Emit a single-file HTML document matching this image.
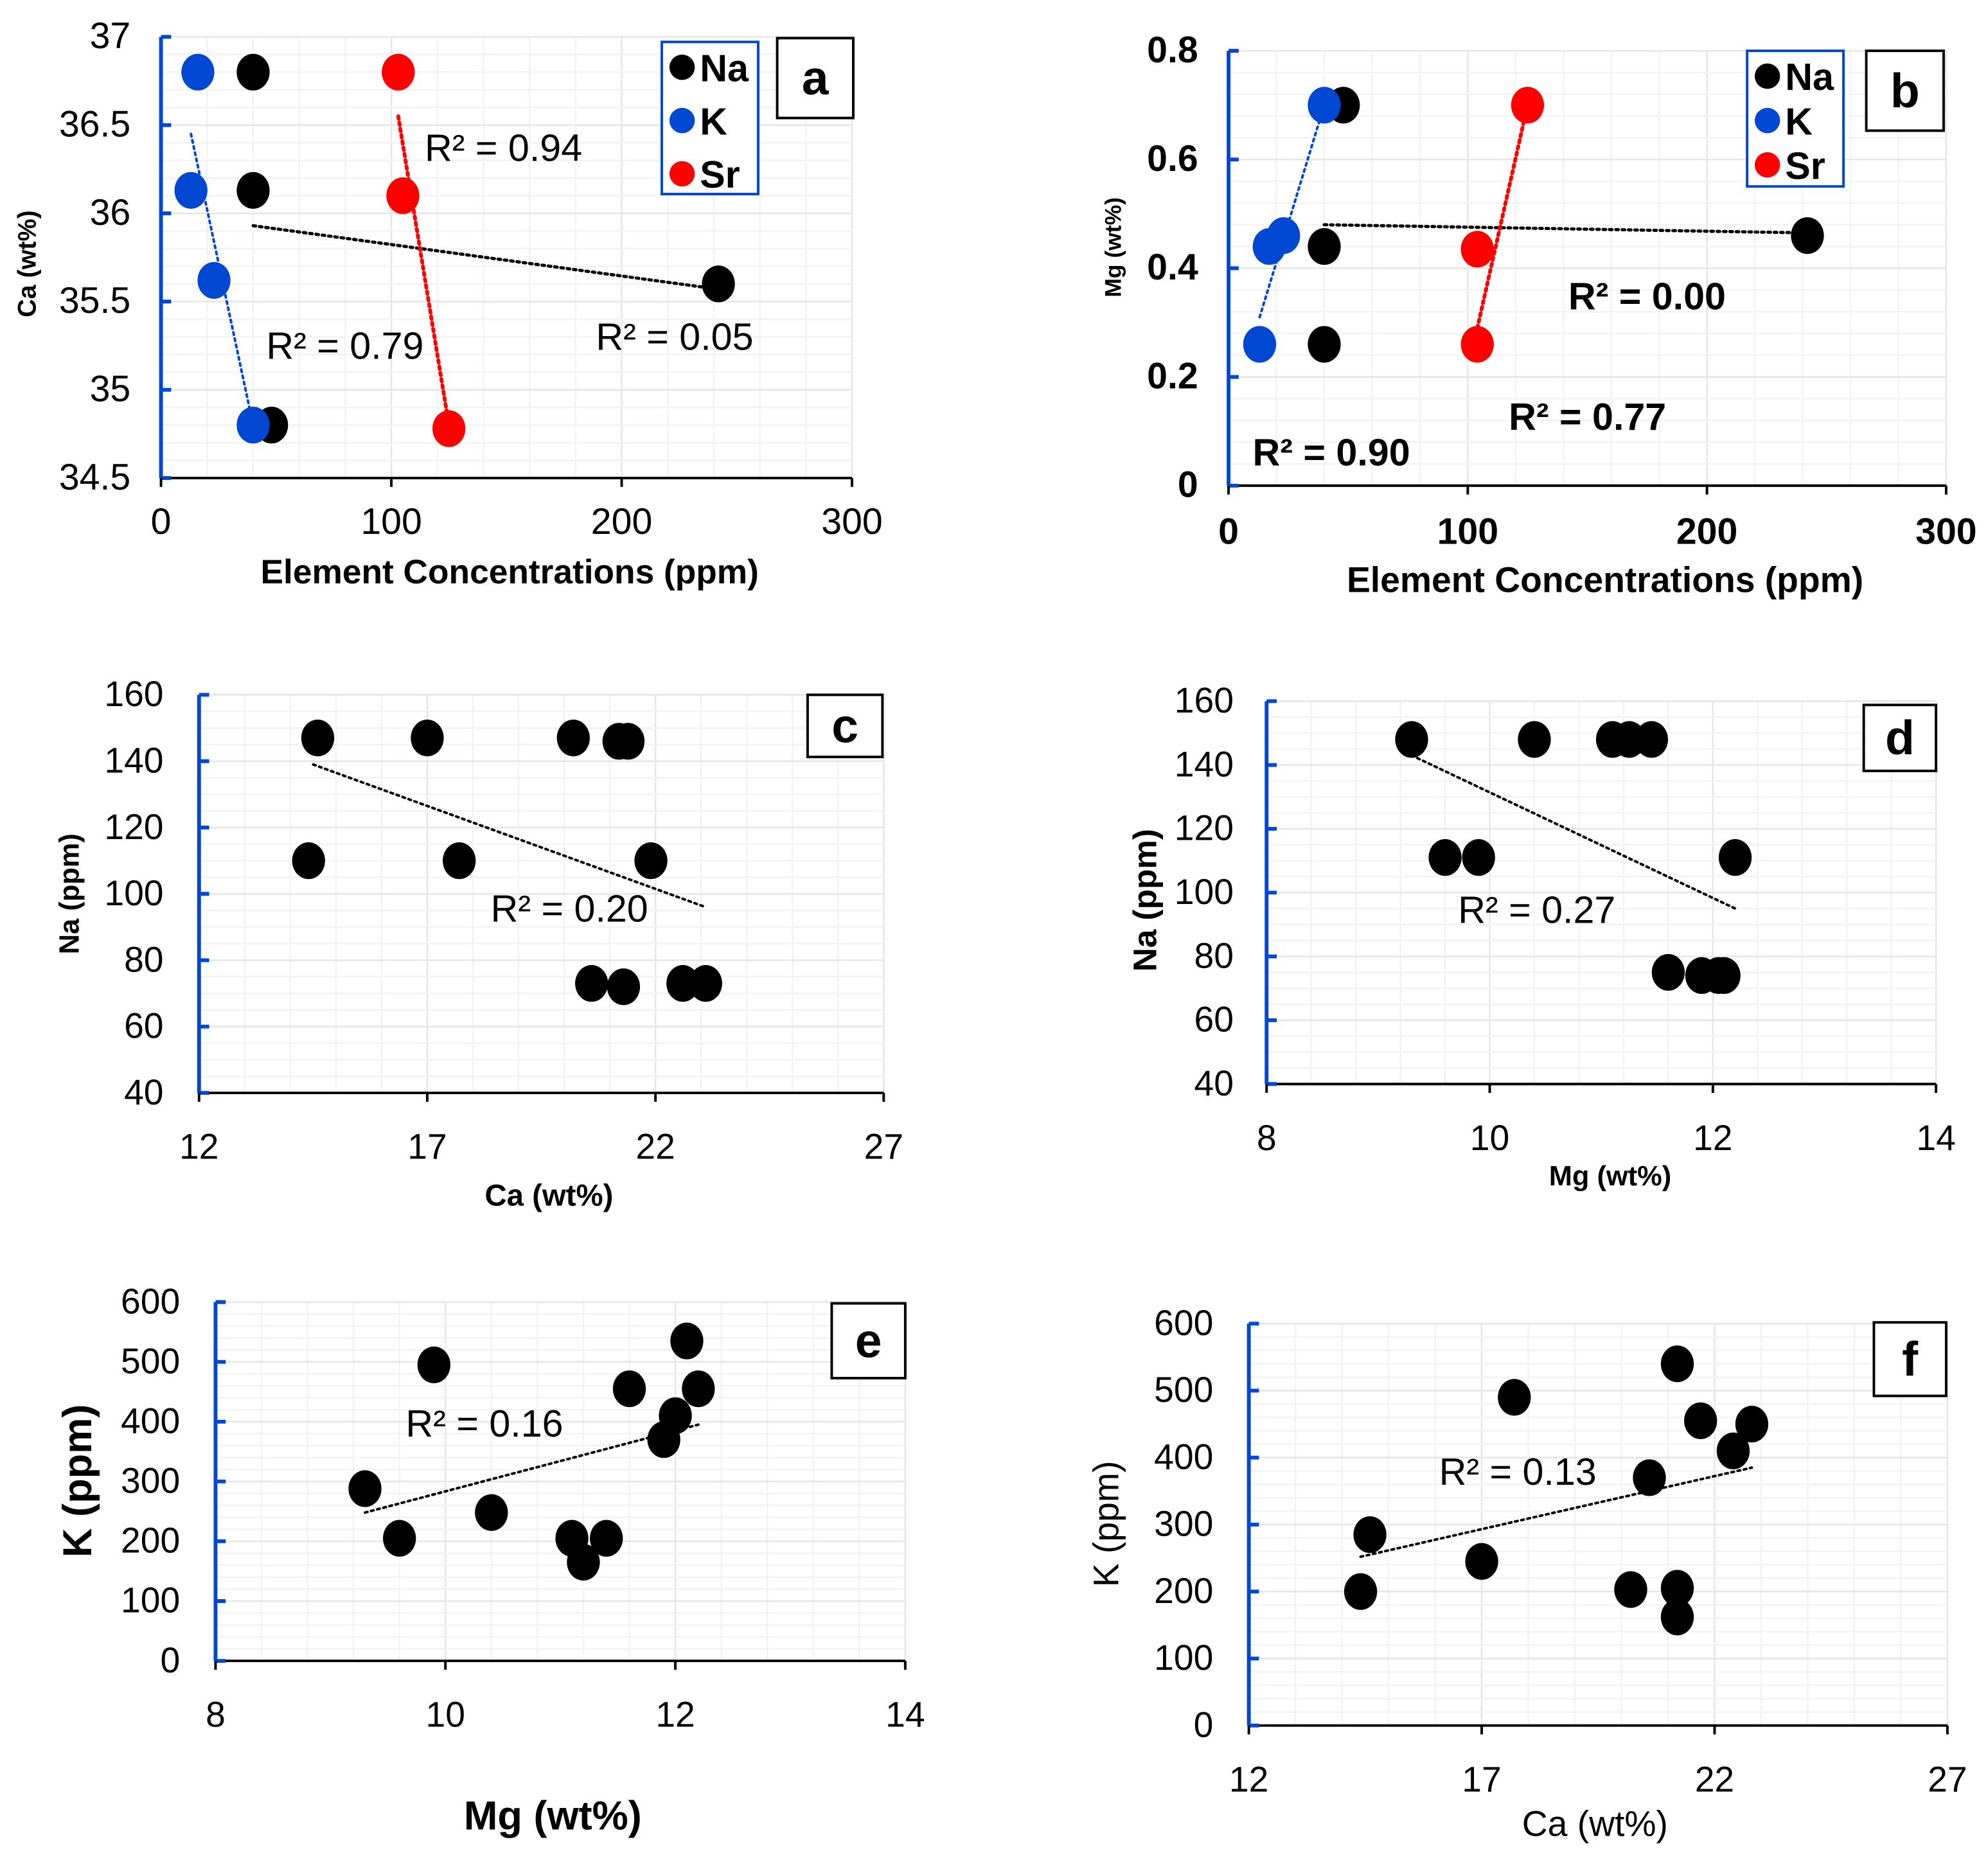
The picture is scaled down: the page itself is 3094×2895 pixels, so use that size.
<!DOCTYPE html>
<html><head><meta charset="utf-8"><style>
html,body{margin:0;padding:0;background:#fff;}
svg{display:block;font-family:"Liberation Sans",Arial,sans-serif;}
</style></head><body>
<svg id="chart" width="3094" height="2895" viewBox="0 0 1568 1467" xmlns="http://www.w3.org/2000/svg"></svg>
<script>
// Panel a
const aNaX=[40,40,242,48], aNaY=[36.8,36.13,35.6,34.8];
const aKX=[16,13,23,40], aKY=[36.8,36.13,35.62,34.8];
const aSrX=[103,105,125], aSrY=[36.8,36.1,34.78];
const aNaTrend=[[40,35.93],[242,35.57]], aKTrend=[[13,36.45],[40,34.8]], aSrTrend=[[103,36.55],[125,34.8]];
const aXTicks=[0,100,200,300], aYTicks=[34.5,35,35.5,36,36.5,37];
// Panel b
const bNaX=[40,40,48,242], bNaY=[0.44,0.26,0.7,0.46];
const bKX=[13,17,23,40], bKY=[0.26,0.44,0.46,0.7];
const bSrX=[104,104,125], bSrY=[0.26,0.435,0.7];
const bNaTrend=[[40,0.48],[242,0.465]], bKTrend=[[13,0.31],[40,0.7]], bSrTrend=[[104,0.29],[125,0.7]];
const bXTicks=[0,100,200,300], bYTicks=[0,0.2,0.4,0.6,0.8];
// Panel c
const cX=[14.6,17,20.2,21.2,21.4,14.4,17.7,21.9,20.6,21.3,22.6,23.1];
const cY=[147,147,147,146,146,110,110,110,73,72,73,73];
const cTrend=[[14.5,139],[23.1,96]], cXTicks=[12,17,22,27], cYTicks=[40,60,80,100,120,140,160];
// Panel d
const dX=[9.3,10.4,11.1,11.25,11.45,9.6,9.9,12.2,11.6,11.9,12.05,12.1];
const dY=[148,148,148,148,148,111,111,111,75,74,74,74];
const dTrend=[[9.3,143],[12.2,95]], dXTicks=[8,10,12,14], dYTicks=[40,60,80,100,120,140,160];
// Panel e
const eX=[9.3,9.6,9.9,10.4,11.1,11.2,11.4,11.6,11.9,12.0,12.1,12.2];
const eY=[288,205,495,248,205,165,205,455,370,410,535,455];
const eTrend=[[9.3,248],[12.2,395]], eXTicks=[8,10,12,14], eYTicks=[0,100,200,300,400,500,600];
// Panel f
const fX=[14.4,14.6,17,17.7,20.2,20.6,21.2,21.2,21.2,21.7,22.4,22.8];
const fY=[200,285,245,490,203,370,540,205,162,455,410,450];
const fTrend=[[14.4,252],[22.8,385]], fXTicks=[12,17,22,27], fYTicks=[0,100,200,300,400,500,600];

const NS="http://www.w3.org/2000/svg";
const svg=document.getElementById('chart');
function mk(tag,attrs,parent,text){const e=document.createElementNS(NS,tag);for(const k in attrs)e.setAttribute(k,attrs[k]);if(text!==undefined)e.textContent=text;(parent||svg).appendChild(e);return e;}

function panel(cfg){
  const g=mk('g',{});
  
  
  const xmin=cfg.xt[0],xmax=cfg.xt[cfg.xt.length-1],ymin=cfg.yt[0],ymax=cfg.yt[cfg.yt.length-1];
  const sx=v=>cfg.x0+(v-xmin)/(xmax-xmin)*(cfg.x1-cfg.x0);
  const sy=v=>cfg.y0+(v-ymin)/(ymax-ymin)*(cfg.y1-cfg.y0);
  const xs=(xmax-xmin)/((cfg.xt.length-1)*cfg.xm), ys=(ymax-ymin)/((cfg.yt.length-1)*cfg.ym);
  for(let i=0;i<=(cfg.xt.length-1)*cfg.xm;i++){const x=sx(xmin+i*xs);const l=mk('line',{x1:x,x2:x,y1:cfg.y1,y2:cfg.y0,stroke:i%cfg.xm?'#f3f3f3':'#e6e6e6','stroke-width':1.3},g);}
  for(let i=0;i<=(cfg.yt.length-1)*cfg.ym;i++){const y=sy(ymin+i*ys);const l=mk('line',{x1:cfg.x0,x2:cfg.x1,y1:y,y2:y,stroke:i%cfg.ym?'#f3f3f3':'#e6e6e6','stroke-width':1.3},g);}
  const ya=mk('line',{x1:cfg.x0,x2:cfg.x0,y1:cfg.y0,y2:cfg.y1,stroke:'#0047d1','stroke-width':3},g);
  
  const xa=mk('line',{x1:cfg.x0,x2:cfg.x1,y1:cfg.y0,y2:cfg.y0,stroke:'#000','stroke-width':2},g);
  
  const fw=cfg.bold?'bold':'normal';
  cfg.yt.forEach(v=>{const y=sy(v);mk('line',{x1:cfg.x0,x2:cfg.x0+8,y1:y,y2:y,stroke:'#0047d1','stroke-width':3},g);
    const t=mk('text',{x:cfg.x0-cfg.ylOff,y:y+9,'text-anchor':'end','font-size':cfg.fs,'font-weight':fw},g,String(v));
    });
  cfg.xt.forEach(v=>{const x=sx(v);mk('line',{x1:x,x2:x,y1:cfg.y0,y2:cfg.y0+7,stroke:'#000','stroke-width':2},g);
    const t=mk('text',{x:x,y:cfg.y0+cfg.xlOff,'text-anchor':'middle','font-size':cfg.fs,'font-weight':fw},g,String(v));
    });
  const xt=mk('text',{x:cfg.xTitle[0],y:cfg.xTitle[1],'text-anchor':'middle','font-size':cfg.xTitle[3],'font-weight':cfg.xTitle[4]},g,cfg.xTitle[2]);
  
  const yt=mk('text',{x:0,y:0,'text-anchor':'middle','font-size':cfg.yTitle[3],'font-weight':cfg.yTitle[4],transform:`translate(${cfg.yTitle[0]},${cfg.yTitle[1]}) rotate(-90)`},g,cfg.yTitle[2]);
  
  cfg.trends.forEach(tr=>{const l=mk('line',{x1:sx(tr.p[0][0]),y1:sy(tr.p[0][1]),x2:sx(tr.p[1][0]),y2:sy(tr.p[1][1]),stroke:tr.c,'stroke-width':tr.w||2.5,'stroke-dasharray':'2 3','stroke-linecap':'round'},g);
    });
  cfg.series.forEach(s=>{s.x.forEach((xv,i)=>{const e=mk('ellipse',{cx:sx(xv),cy:sy(s.y[i]),rx:13,ry:14.5,fill:s.c},g);
    });});
  cfg.r2.forEach(r=>{const t=mk('text',{x:r[0],y:r[1],'font-size':r[3]||30,'font-weight':r[4]||'normal'},g,r[2]);
    });
  const b=cfg.box;const br=mk('rect',{x:b[0],y:b[1],width:b[2],height:b[3],fill:'#fff',stroke:'#000','stroke-width':2},g);
  
  const bt=mk('text',{x:b[0]+b[2]/2,y:b[1]+b[3]/2+13,'text-anchor':'middle','font-size':38,'font-weight':'bold'},g,cfg.id);
  
  if(cfg.legend){const L=cfg.legend;const lr=mk('rect',{x:L[0],y:L[1],width:L[2],height:L[3],fill:'#fff',stroke:'#0047d1','stroke-width':2},g);
    
    [['Na','#000'],['K','#0047d1'],['Sr','#f00']].forEach((e,i)=>{const y=L[1]+20+i*L[4];
      const c=mk('circle',{cx:L[0]+16,cy:y,r:10,fill:e[1]},g);
      const t=mk('text',{x:L[0]+30,y:y+11,'font-size':30,'font-weight':'bold'},g,e[0]);});}
}

panel({id:'a',x0:127,x1:672,y0:377,y1:29,xt:aXTicks,yt:aYTicks,xm:5,ym:5,fs:29,ylOff:24,xlOff:44,bold:false,
  xTitle:[402,460,'Element Concentrations (ppm)',27,'bold'],yTitle:[28,208,'Ca (wt%)',20,'bold'],
  trends:[{p:aNaTrend,c:'#000'},{p:aKTrend,c:'#0047d1',w:2},{p:aSrTrend,c:'#f00',w:3}],
  series:[{n:'na',x:aNaX,y:aNaY,c:'#000'},{n:'k',x:aKX,y:aKY,c:'#0047d1'},{n:'sr',x:aSrX,y:aSrY,c:'#f00'}],
  r2:[[335,127,'R² = 0.94'],[210,283,'R² = 0.79'],[470,276,'R² = 0.05']],
  box:[613,30,60,63],legend:[522,33,76,120,42]});
panel({id:'b',x0:969,x1:1535,y0:383,y1:40,xt:bXTicks,yt:bYTicks,xm:5,ym:5,fs:29,ylOff:24,xlOff:46,bold:true,
  xTitle:[1266,467,'Element Concentrations (ppm)',28,'bold'],yTitle:[884,195,'Mg (wt%)',18,'bold'],
  trends:[{p:bNaTrend,c:'#000'},{p:bKTrend,c:'#0047d1',w:2},{p:bSrTrend,c:'#f00',w:3}],
  series:[{n:'na',x:bNaX,y:bNaY,c:'#000'},{n:'k',x:bKX,y:bKY,c:'#0047d1'},{n:'sr',x:bSrX,y:bSrY,c:'#f00'}],
  r2:[[1237,244,'R² = 0.00',30,'bold'],[1190,339,'R² = 0.77',30,'bold'],[988,367,'R² = 0.90',30,'bold']],
  box:[1472,40,61,63],legend:[1378,40,76,107,35]});
panel({id:'c',x0:157,x1:697,y0:862,y1:548,xt:cXTicks,yt:cYTicks,xm:5,ym:4,fs:28,ylOff:28,xlOff:52,bold:false,
  xTitle:[433,951,'Ca (wt%)',24,'bold'],yTitle:[62,705,'Na (ppm)',22,'bold'],
  trends:[{p:cTrend,c:'#000',w:2}],series:[{n:'na',x:cX,y:cY,c:'#000'}],
  r2:[[387,727,'R² = 0.20']],box:[637,548,59,49]});
panel({id:'d',x0:999,x1:1527,y0:855,y1:553,xt:dXTicks,yt:dYTicks,xm:5,ym:4,fs:28,ylOff:26,xlOff:52,bold:false,
  xTitle:[1270,935,'Mg (wt%)',22,'bold'],yTitle:[912,710,'Na (ppm)',26,'bold'],
  trends:[{p:dTrend,c:'#000',w:2}],series:[{n:'na',x:dX,y:dY,c:'#000'}],
  r2:[[1150,728,'R² = 0.27']],box:[1470,556,57,52]});
panel({id:'e',x0:170,x1:714,y0:1310,y1:1027,xt:eXTicks,yt:eYTicks,xm:5,ym:5,fs:28,ylOff:28,xlOff:52,bold:false,
  xTitle:[436,1443,'Mg (wt%)',32,'bold'],yTitle:[72,1168,'K (ppm)',32,'bold'],
  trends:[{p:eTrend,c:'#000',w:2}],series:[{n:'k',x:eX,y:eY,c:'#000'}],
  r2:[[320,1133,'R² = 0.16']],box:[656,1028,58,59]});
panel({id:'f',x0:985,x1:1536,y0:1361,y1:1044,xt:fXTicks,yt:fYTicks,xm:5,ym:5,fs:28,ylOff:28,xlOff:52,bold:false,
  xTitle:[1258,1448,'Ca (wt%)',28,'normal'],yTitle:[882,1202,'K (ppm)',28,'normal'],
  trends:[{p:fTrend,c:'#000',w:2}],series:[{n:'k',x:fX,y:fY,c:'#000'}],
  r2:[[1135,1171,'R² = 0.13']],box:[1478,1043,57,58]});
</script>
</body></html>
